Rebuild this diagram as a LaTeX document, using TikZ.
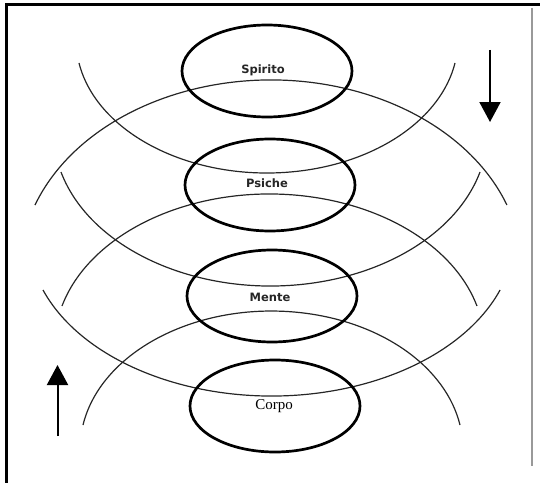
\documentclass[tikz,border=0pt]{standalone}
\usepackage{fontspec}
\newfontfamily\labfont{DejaVu Sans}
\newfontfamily\serfont{Liberation Serif}
\usetikzlibrary{shapes.geometric,arrows.meta}
\tikzset{
  layer/.style={ellipse,draw=black,line width=2.7pt,minimum width=170pt,minimum height=92pt,inner sep=0pt},
  sanslab/.style={font=\labfont\bfseries\fontsize{11.5pt}{12pt}\selectfont,text=black!85},
  seriflab/.style={font=\serfont\fontsize{15pt}{16pt}\selectfont,text=black},
  band/.style={line width=1.2pt,draw=black!85},
  flowarrow/.style={line width=2pt,-{Triangle[width=21pt,length=20pt]}}
}
\begin{document}
\begin{tikzpicture}[x=1pt,y=1pt]
\useasboundingbox (0,0) rectangle (540,483);
% frame
\draw[line width=3pt] (540,478) -- (6,478) -- (6,0);
\draw[line width=2pt,draw=black!40] (532,475) -- (532,17);
% arcs (elliptic arcs, a little less than half)
\coordinate (a0) at (79,420);
\coordinate (b0) at (35,278);
\coordinate (c0) at (61,311);
\coordinate (d0) at (62,177);
\coordinate (e0) at (43,193);
\coordinate (f0) at (83,58);
\draw[band] (a0) arc[start angle=190,end angle=350,x radius=190.9pt,y radius=133.1pt];
\draw[band] (b0) arc[start angle=160,end angle=20,x radius=251.1pt,y radius=190pt];
\draw[band] (c0) arc[start angle=195,end angle=345,x radius=216.9pt,y radius=153.8pt];
\draw[band] (d0) arc[start angle=165,end angle=15,x radius=214.8pt,y radius=151.1pt];
\draw[band] (e0) arc[start angle=200,end angle=340,x radius=243.2pt,y radius=161.1pt];
\draw[band] (f0) arc[start angle=170,end angle=10,x radius=191.4pt,y radius=137.9pt];
% ellipses
\node[layer] (spirito) at (267,412) {};
\node[layer] (psiche) at (270,298) {};
\node[layer] (mente) at (272,187) {};
\node[layer] (corpo) at (275,77) {};
\node[sanslab] (tspirito) at (263,413) {Spirito};
\node[sanslab] (tpsiche) at (267,300) {Psiche};
\node[sanslab] (tmente) at (270,186) {Mente};
\node[seriflab] (tcorpo) at (274,77) {Corpo};
% arrows
\coordinate (dtop) at (490,433);
\coordinate (dtip) at (490,361);
\coordinate (ubot) at (57.5,47);
\coordinate (utip) at (57.5,118);
\draw[flowarrow] (dtop) -- (dtip);
\draw[flowarrow] (ubot) -- (utip);
\end{tikzpicture}
\end{document}
